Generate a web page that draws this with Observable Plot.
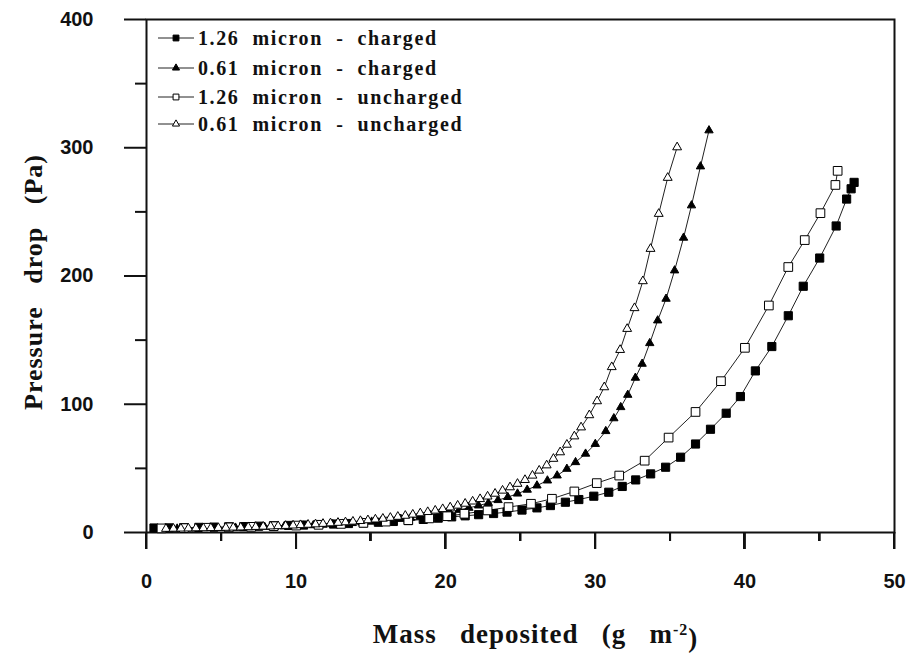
<!DOCTYPE html>
<html>
<head>
<meta charset="utf-8">
<script src="https://cdn.jsdelivr.net/npm/d3@7"></script>
<script src="https://cdn.jsdelivr.net/npm/@observablehq/plot@0.6"></script>
<style>
  html, body { margin: 0; padding: 0; background: #fff; overflow: hidden; }
  #chart { position: relative; width: 907px; height: 653px; }
  #chart svg { display: block; max-width: none; }
  .xtick { position: absolute; background: #111; width: 2px; }
</style>
</head>
<body>
<div id="chart"></div>
<script>
// ---------- data ----------
const seriesNames = [
  "1.26  micron  -  charged",
  "0.61  micron  -  charged",
  "1.26  micron  -  uncharged",
  "0.61  micron  -  uncharged"
];

// 1.26 micron - charged (filled squares)
const x126c = [0.5,1.5,2.5,3.5,4.5,5.5,6.5,7.5,8.5,9.5,10.5,11.5,12.5,13.5,14.5,15.5,16.5,17.5,18.5,19.5,20.4,21.3,22.2,23.2,24.1,25.1,26.1,27.0,28.0,28.9,29.9,30.9,31.8,32.7,33.7,34.7,35.7,36.7,37.7,38.75,39.7,40.7,41.8,42.9,43.9,45.0,46.1,46.8,47.1,47.3];
const y126c = [3.5,3.6,3.8,4.0,4.2,4.4,4.6,4.9,5.2,5.5,5.8,6.2,6.6,7.0,7.5,8.0,8.6,9.3,10.2,11.2,12.2,13.0,13.9,14.8,15.9,17.5,19.2,21.0,23.6,25.7,28.3,31.4,35.9,41.0,45.7,50.9,58.7,69.0,80.5,93.0,106,126,145,169,192,214,239,260,268,273];

// 0.61 micron - charged (filled triangles)
const x061c = [1.4,2.05,2.7,3.35,4.0,4.65,5.3,5.95,6.6,7.25,7.9,8.55,9.2,9.85,10.5,11.15,11.8,12.45,13.1,13.75,14.4,15.05,15.7,16.35,17.0,17.65,18.3,18.95,19.6,20.25,20.9,21.55,22.2,22.85,23.5,24.15,24.8,25.45,26.1,26.8,27.45,28.1,28.68,29.35,30.0,30.7,31.24,31.7,32.17,32.68,33.13,33.64,34.17,34.73,35.3,35.9,36.43,37.03,37.6];
const y061c = [2.9,3.0,3.1,3.2,3.3,3.4,3.6,3.7,3.9,4.1,4.3,4.5,4.7,5.0,5.3,5.6,6.0,6.4,6.8,7.3,7.8,8.4,9.1,9.8,10.6,11.5,12.5,13.6,14.8,16.1,17.6,19.2,21.0,23.0,25.2,27.6,30.3,33.3,36.6,40.5,44.4,49.6,54.8,61.4,69.0,79.0,89.0,97.7,107.3,120.6,131.5,147.6,165.3,182.2,204.3,229.8,255,285.4,313.5];

// 1.26 micron - uncharged (open squares)
const x126u = [1.0,2.5,4.0,5.5,7.0,8.5,10.0,11.5,13.0,14.5,16.0,17.5,18.9,20.1,21.25,22.8,24.2,25.7,27.1,28.6,30.1,31.6,33.3,34.9,36.7,38.4,40.0,41.6,42.9,44.0,45.05,46.05,46.2];
const y126u = [3.2,3.4,3.7,4.0,4.4,4.9,5.4,6.0,6.7,7.5,8.5,9.6,11.0,12.7,14.6,17.2,19.8,22.4,26.3,32.0,38.5,44.4,56.0,74.0,94.0,118,144,177,207,228,249,271,282];

// 0.61 micron - uncharged (open triangles)
const x061u = [1.3,1.8,2.3,2.8,3.3,3.8,4.3,4.8,5.3,5.8,6.3,6.8,7.3,7.8,8.3,8.8,9.3,9.8,10.3,10.8,11.3,11.8,12.3,12.8,13.3,13.8,14.3,14.8,15.3,15.8,16.3,16.8,17.3,17.8,18.3,18.8,19.3,19.8,20.3,20.8,21.3,21.8,22.3,22.8,23.3,23.8,24.3,24.8,25.3,25.8,26.25,26.75,27.2,27.65,28.1,28.6,29.05,29.6,30.12,30.6,31.1,31.66,32.13,32.62,33.18,33.69,34.24,34.84,35.47];
const y061u = [2.9,3.0,3.1,3.2,3.3,3.4,3.5,3.6,3.7,3.9,4.0,4.2,4.4,4.6,4.8,5.0,5.2,5.5,5.8,6.1,6.4,6.8,7.2,7.6,8.0,8.5,9.0,9.6,10.2,10.8,11.5,12.3,13.1,14.0,15.0,16.0,17.1,18.3,19.6,21.0,22.5,24.2,26.1,28.1,30.3,32.7,35.3,38.0,41.0,44.4,48.3,52.4,57.5,62.6,68.5,75.0,82.0,91.5,102.4,113.3,129.0,142.4,158.8,175.0,196.0,221.2,248.5,276.6,300.4];

const xMajorTicks = [0, 10, 20, 30, 40, 50];
const xMinorTicks = [5, 15, 25, 35, 45];
const yMajorTicks = [0, 100, 200, 300, 400];
const yMinorTicks = [50, 150, 250, 350];

const xTitle = "Mass   deposited   (g   m";
const xTitleSup = "-2";
const yTitle = "Pressure   drop   (Pa)";

// ---------- build table ----------
const seriesX = [x126c, x061c, x126u, x061u];
const seriesY = [y126c, y061c, y126u, y061u];
const rows = [];
seriesNames.forEach((name, i) => {
  seriesX[i].forEach((xv, j) => rows.push({series: name, x: xv, y: seriesY[i][j]}));
});

const symbolOf = {
  [seriesNames[0]]: "square",
  [seriesNames[1]]: "triangle",
  [seriesNames[2]]: "square",
  [seriesNames[3]]: "triangle"
};
const fillOf = {
  [seriesNames[0]]: "#000",
  [seriesNames[1]]: "#000",
  [seriesNames[2]]: "#fff",
  [seriesNames[3]]: "#fff"
};
const rOf = {
  [seriesNames[0]]: 4.6,
  [seriesNames[1]]: 3.1,
  [seriesNames[2]]: 4.9,
  [seriesNames[3]]: 3.3
};

const W = 907, H = 653, ML = 146, MR = 13, MT = 19, MB = 121;
const frameW = W - ML - MR, frameH = H - MT - MB;

const tickFont = "'Liberation Sans', Arial, sans-serif";
const serif = "'Liberation Serif', 'Times New Roman', serif";
const axisStroke = "#111";

const marks = [
  Plot.frame({stroke: axisStroke, strokeWidth: 2}),
  // y tick lines (outward)
  Plot.ruleY(yMajorTicks, {y: d => d, insetRight: frameW, insetLeft: -22, stroke: axisStroke, strokeWidth: 2}),
  Plot.ruleY(yMinorTicks, {y: d => d, insetRight: frameW, insetLeft: -11, stroke: axisStroke, strokeWidth: 2}),
  // x tick lines (outward)
  Plot.ruleX(xMajorTicks, {x: d => d, insetTop: frameH, insetBottom: -17, stroke: axisStroke, strokeWidth: 2}),
  Plot.ruleX(xMinorTicks, {x: d => d, insetTop: frameH, insetBottom: -9, stroke: axisStroke, strokeWidth: 2}),
  // tick labels
  Plot.axisX({ticks: xMajorTicks, tickSize: 0, tickPadding: 41, label: null, tickFormat: d => String(d),
    fontSize: 20, fontWeight: "bold", fontFamily: tickFont}),
  Plot.axisY({ticks: yMajorTicks, tickSize: 0, tickPadding: 53, label: null, tickFormat: d => String(d),
    fontSize: 20, fontWeight: "bold", fontFamily: tickFont})
];

seriesNames.forEach(name => {
  const data = rows.filter(d => d.series === name);
  marks.push(Plot.line(data, {x: "x", y: "y", stroke: "#222", strokeWidth: 1}));
});
seriesNames.forEach(name => {
  const data = rows.filter(d => d.series === name);
  marks.push(Plot.dot(data, {x: "x", y: "y", symbol: symbolOf[name], r: rOf[name],
    fill: fillOf[name], stroke: "#000", strokeWidth: 1}));
});

// axis titles (text marks anchored to the frame)
marks.push(Plot.text([yTitle], {text: d => d, frameAnchor: "left", textAnchor: "middle", rotate: -90, dx: -113, dy: 6,
  fontSize: 26, fontWeight: "bold", fontFamily: serif, className: "ytitle"}));
marks.push(Plot.text([xTitle], {text: d => d, frameAnchor: "bottom", textAnchor: "middle", lineAnchor: "bottom", dy: 110, dx: 15,
  fontSize: 27, fontWeight: "bold", fontFamily: serif, className: "xtitle"}));

const chart = Plot.plot({
  width: W,
  height: H,
  marginLeft: ML,
  marginRight: MR,
  marginTop: MT,
  marginBottom: MB,
  x: {domain: [0, 50]},
  y: {domain: [0, 400]},
  style: {background: "#fff", color: "#111"},
  marks
});
const host = document.getElementById("chart");
host.appendChild(chart);

const svg = d3.select(chart);
svg.selectAll(".ytitle text, .xtitle text").style("white-space", "pre").attr("letter-spacing", 1);

// superscript on x title
const xt = svg.select(".xtitle text");
if (!xt.empty()) {
  xt.append("tspan").attr("dy", "-0.45em").attr("font-size", 16).text(xTitleSup);
  xt.append("tspan").attr("dy", "0.45em").text(")");
}

// legend inside plot (top-left)
const legend = svg.append("g").attr("class", "legend");
const legX0 = 158, legX1 = 194, legTextX = 198;
const legY = [38, 68, 97, 124];
seriesNames.forEach((name, i) => {
  const y = legY[i];
  legend.append("line").attr("x1", legX0).attr("x2", legX1).attr("y1", y).attr("y2", y)
    .attr("stroke", "#222").attr("stroke-width", 1);
  const sym = d3.symbol(symbolOf[name] === "square" ? d3.symbolSquare : d3.symbolTriangle,
    symbolOf[name] === "square" ? 34 : 22);
  legend.append("path").attr("d", sym()).attr("transform", `translate(${(legX0 + legX1) / 2},${y})`)
    .attr("fill", fillOf[name]).attr("stroke", "#000").attr("stroke-width", 1);
  legend.append("text").attr("x", legTextX).attr("y", y).attr("dy", "0.35em")
    .attr("text-anchor", "start")
    .attr("font-family", serif).attr("font-weight", "bold").attr("font-size", 20)
    .attr("letter-spacing", 1.6)
    .attr("fill", "#111").style("white-space", "pre").text(name);
});

// x tick lines reinforced as an overlay positioned with the plot's own x scale
const xs = chart.scale("x");
const addTick = (v, len) => {
  const px = xs.apply(v);
  if (!isFinite(px)) return;
  const el = document.createElement("div");
  el.className = "xtick";
  el.style.left = (px - 1) + "px";
  el.style.top = (H - MB) + "px";
  el.style.height = len + "px";
  host.appendChild(el);
};
xMajorTicks.forEach(v => addTick(v, 17));
xMinorTicks.forEach(v => addTick(v, 9));
</script>
</body>
</html>
